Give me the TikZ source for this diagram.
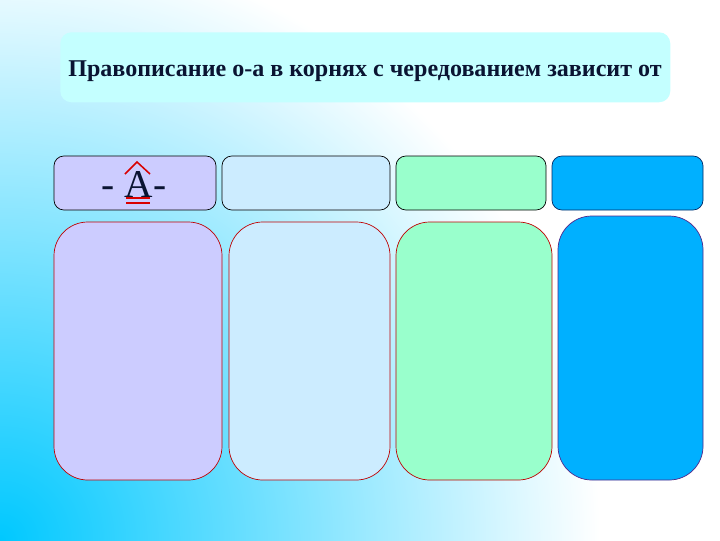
\documentclass[tikz,border=0pt]{standalone}
\usepackage{fontspec}
\setmainfont{Liberation Serif}
\begin{document}
\begin{tikzpicture}[x=0.025cm,y=-0.025cm,
  topbox/.style={draw=black, line width=0.5pt, rounded corners=7},
  colbox/.style={draw=red!75!black, line width=0.5pt, rounded corners=24},
  hatmark/.style={draw=red!85!black, line width=1.1pt}]
\definecolor{lav}{RGB}{204,204,255}
\definecolor{pale}{RGB}{204,236,255}
\definecolor{mint}{RGB}{153,255,204}
\definecolor{sky}{RGB}{0,176,255}
\definecolor{titlefill}{RGB}{196,255,255}
\definecolor{ink}{RGB}{10,20,50}
\definecolor{bgcyan}{RGB}{0,200,255}
\definecolor{skyborder}{RGB}{0,40,100}
\definecolor{colborder}{RGB}{80,40,140}
\useasboundingbox (0,0) rectangle (720,540);
\fill[white] (0,0) rectangle (720,540);
\begin{scope}
\clip (0,0) rectangle (720,540);
\shade[inner color=bgcyan, outer color=white] (0,540) circle (600);
\end{scope}
% title
\node[fill=titlefill, rounded corners=8, minimum width=610*0.025cm, minimum height=70*0.025cm, anchor=north west] (title) at (60,32) {};
\node[font=\bfseries\fontsize{17.1}{20}\selectfont, text=ink] (titletext) at (365,71) {Правописание о-а в корнях с чередованием зависит от};
% top row
\draw[topbox, fill=lav] (54,156) rectangle (216,210);
\draw[topbox, fill=pale] (222,156) rectangle (390,210);
\draw[topbox, fill=mint] (396,156) rectangle (546,210);
\draw[topbox, fill=sky, draw=skyborder] (552,156) rectangle (703,210);
% columns
\draw[colbox, fill=lav] (54,222) rectangle (222,480);
\draw[colbox, fill=pale] (229,222) rectangle (390,480);
\draw[colbox, fill=mint] (396,222) rectangle (552,480);
\draw[colbox, fill=sky, draw=colborder] (558,216) rectangle (703,480);
% -A-
\node[font=\fontsize{28}{30}\selectfont, text=ink, inner sep=0pt] (a) at (134,184) {- А-};
\coordinate (hatl) at (125,174);
\coordinate (hatt) at (137,162);
\coordinate (hatr) at (150,174);
\draw[hatmark] (hatl) -- (hatt) -- (hatr);
\draw[hatmark] (126,198) -- (150,198);
\draw[hatmark] (126,203) -- (150,203);
\end{tikzpicture}
\end{document}
